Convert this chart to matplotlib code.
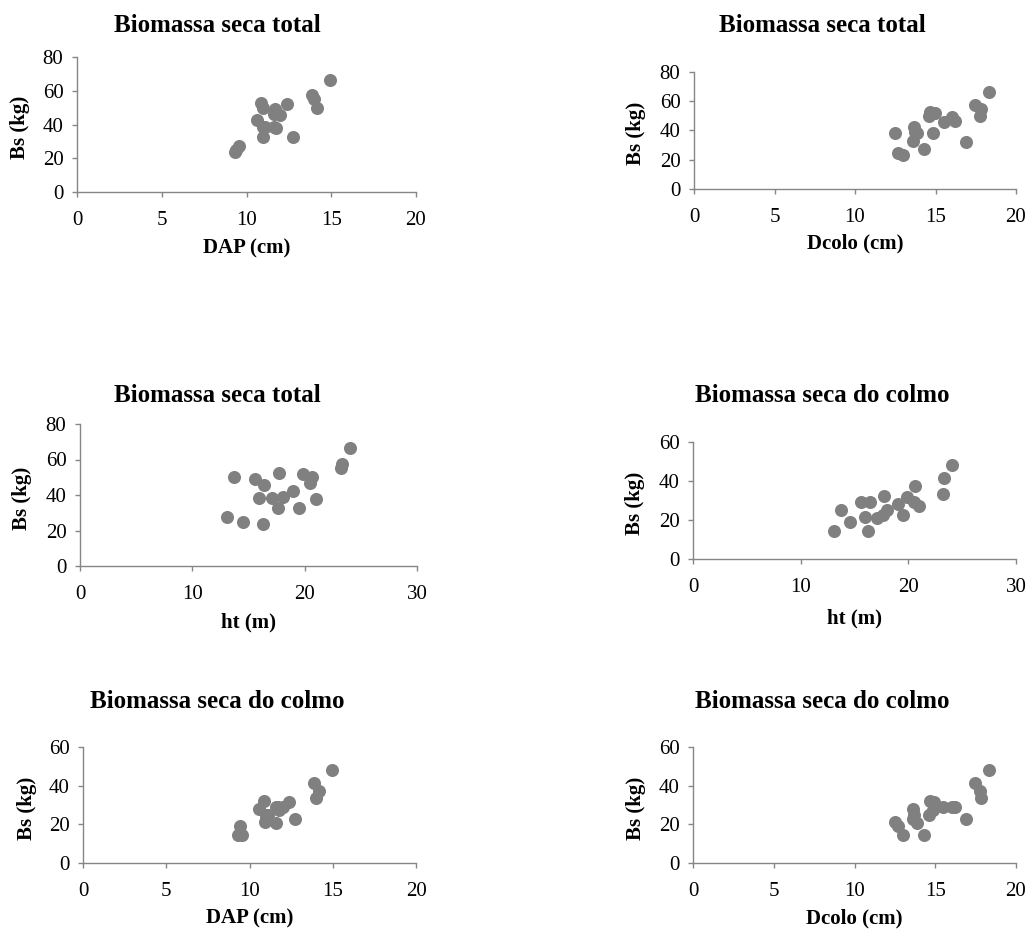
import matplotlib
matplotlib.use("Agg")
import matplotlib.pyplot as plt

W, H = 1030, 931

# one record per tree
dap = [9.55, 11.0, 9.4, 11.7, 12.0, 10.95, 9.3, 10.85, 11.6, 11.0,
       11.1, 10.6, 12.75, 12.4, 14.15, 11.6, 11.75, 14.0, 13.85, 14.95]
dcolo = [14.3, 14.6, 12.7, 16.05, 15.5, 12.5, 13.0, 14.65, 13.85, 13.6,
         13.7, 13.65, 16.9, 14.95, 17.75, 16.2, 14.85, 17.85, 17.45, 18.3]
ht = [13.07, 13.75, 14.55, 15.62, 16.4, 15.95, 16.28, 17.7, 17.08, 17.67,
      18.06, 19.0, 19.54, 19.84, 20.64, 20.49, 21.03, 23.25, 23.34, 24.06]
bs_total = [27.5, 49.9, 24.8, 48.9, 45.9, 38.4, 23.5, 52.5, 38.4, 32.8,
            38.8, 42.4, 32.4, 52.0, 49.9, 46.5, 38.0, 55.0, 57.4, 66.6]
bs_colmo = [14.4, 24.9, 19.2, 29.0, 29.0, 21.4, 14.4, 32.1, 20.9, 22.6,
            24.9, 28.1, 22.8, 31.7, 37.5, 29.0, 27.3, 33.4, 41.5, 48.0]

TITLE_TOTAL = "Biomassa seca total"
TITLE_COLMO = "Biomassa seca do colmo"
YLABEL = "Bs (kg)"

# (x, y, title, xlabel, xmax, xstep, ymax, axes box px, title xy, xlabel y, ylabel x)
panels = [
    (dap, bs_total, TITLE_TOTAL, "DAP (cm)", 20, 5, 80, (77, 57, 416, 192), (217, 25), 248, 20),
    (dcolo, bs_total, TITLE_TOTAL, "Dcolo (cm)", 20, 5, 80, (694, 72, 1016, 189), (822, 26), 243, 636),
    (ht, bs_total, TITLE_TOTAL, "ht (m)", 30, 10, 80, (80, 424, 417, 566), (217, 395), 622, 22),
    (ht, bs_colmo, TITLE_COLMO, "ht (m)", 30, 10, 60, (693, 442, 1016, 559), (822, 395), 618, 635),
    (dap, bs_colmo, TITLE_COLMO, "DAP (cm)", 20, 5, 60, (83, 747, 416, 863), (217, 702), 918, 27),
    (dcolo, bs_colmo, TITLE_COLMO, "Dcolo (cm)", 20, 5, 60, (693, 747, 1016, 863), (822, 702), 918, 636),
]

plt.rcParams["font.family"] = ["Liberation Serif", "DejaVu Serif"]

AXIS_COLOR = "#868686"
DOT_COLOR = "#808080"


def fx(px):
    return px / W


def fy(py):
    return 1 - py / H


fig = plt.figure(figsize=(W / 100, H / 100), dpi=100)

for x, y, title, xlabel, xmax, xstep, ymax, box, tpos, xly, ylx in panels:
    l, t, r, b = box
    ax = fig.add_axes([fx(l), fy(b), (r - l) / W, (b - t) / H])
    ax.plot(x, y, "o", color=DOT_COLOR, markersize=9.4, markeredgewidth=0)
    ax.set_xlim(0, xmax)
    ax.set_ylim(0, ymax)
    ax.set_xticks(range(0, xmax + 1, xstep))
    ax.set_yticks(range(0, ymax + 1, 20))
    for side in ("top", "right"):
        ax.spines[side].set_visible(False)
    for side in ("left", "bottom"):
        ax.spines[side].set_color(AXIS_COLOR)
        ax.spines[side].set_linewidth(1.0)
    ax.tick_params(direction="out", length=3.8, width=1.0, color=AXIS_COLOR,
                   labelsize=15, labelcolor="black")
    ax.tick_params(axis="x", pad=10)
    ax.tick_params(axis="y", pad=6)
    for lbl in ax.get_xticklabels() + ax.get_yticklabels():
        lbl.set_clip_on(False)

    fig.text(fx(tpos[0]), fy(tpos[1]), title, ha="center", va="center",
             fontsize=18, fontweight="bold")
    fig.text(fx((l + r) / 2), fy(xly), xlabel, ha="center", va="center",
             fontsize=15, fontweight="bold")
    fig.text(fx(ylx), fy((t + b) / 2 + 3), YLABEL, ha="center", va="center",
             rotation=90, fontsize=15, fontweight="bold")

fig.savefig("out.png", dpi=100, facecolor="white")
